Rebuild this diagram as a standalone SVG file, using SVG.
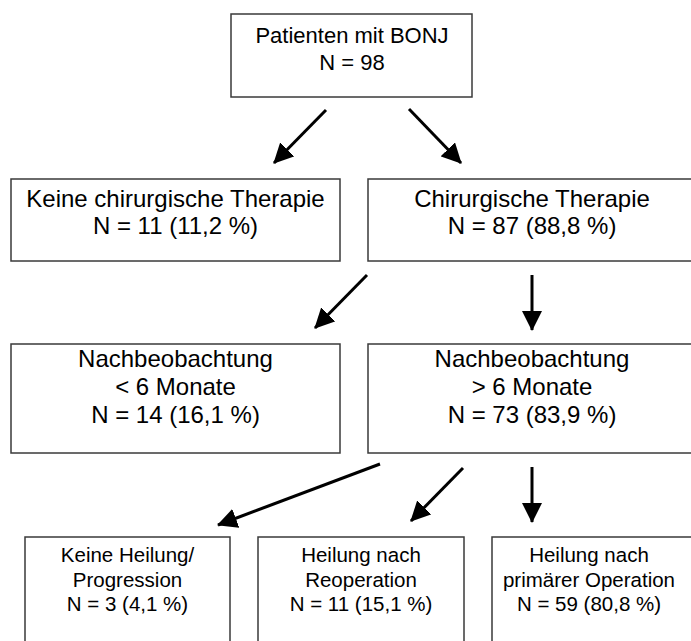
<svg xmlns="http://www.w3.org/2000/svg" width="691" height="641" viewBox="0 0 691 641">
<defs>
<style>
.box{fill:#fff;stroke:#3a3a3a;stroke-width:1.5}
text{font-family:"Liberation Sans",Arial,sans-serif;fill:#000;text-anchor:middle}
.t0{font-size:22px}
.t1{font-size:24px}
.t2{font-size:20.5px}
.arr{stroke:#000;stroke-width:3;fill:none;marker-end:url(#ah)}
</style>
<marker id="ah" markerUnits="userSpaceOnUse" markerWidth="20" markerHeight="20" viewBox="0 0 20 20" refX="19" refY="10" orient="auto">
<path d="M0,0 L20,10 L0,20 Z" fill="#000"/>
</marker>
</defs>
<rect width="691" height="641" fill="#fff"/>
<g id="connectors">
<line class="arr" x1="326" y1="110" x2="274" y2="163"/>
<line class="arr" x1="409" y1="109" x2="461" y2="163"/>
<line class="arr" x1="367" y1="275" x2="315" y2="328"/>
<line class="arr" x1="532" y1="275" x2="532" y2="330"/>
<line class="arr" x1="380" y1="464" x2="218" y2="525"/>
<line class="arr" x1="463" y1="468" x2="411" y2="521"/>
<line class="arr" x1="532" y1="467" x2="532" y2="522"/>
</g>
<g id="n_top">
<rect class="box" x="231" y="14" width="241" height="83"/>
<text class="t0" x="352" y="43">Patienten mit BONJ</text>
<text class="t0" x="352" y="70">N = 98</text>
</g>
<g id="n_keine">
<rect class="box" x="11" y="179" width="329" height="82"/>
<text class="t1" x="175.5" y="207">Keine chirurgische Therapie</text>
<text class="t1" x="175.5" y="234">N = 11 (11,2 %)</text>
</g>
<g id="n_chir">
<rect class="box" x="368" y="179" width="340" height="82"/>
<text class="t1" x="532" y="207">Chirurgische Therapie</text>
<text class="t1" x="532" y="234">N = 87 (88,8 %)</text>
</g>
<g id="n_nach_lt">
<rect class="box" x="11" y="344" width="329" height="109"/>
<text class="t1" x="175.5" y="367">Nachbeobachtung</text>
<text class="t1" x="175.5" y="395">&lt; 6 Monate</text>
<text class="t1" x="175.5" y="423">N = 14 (16,1 %)</text>
</g>
<g id="n_nach_gt">
<rect class="box" x="368" y="344" width="340" height="109"/>
<text class="t1" x="532" y="367">Nachbeobachtung</text>
<text class="t1" x="532" y="395">&gt; 6 Monate</text>
<text class="t1" x="532" y="423">N = 73 (83,9 %)</text>
</g>
<g id="n_keineheilung">
<rect class="box" x="25" y="537" width="205" height="120"/>
<text class="t2" x="127.5" y="562">Keine Heilung/</text>
<text class="t2" x="127.5" y="587">Progression</text>
<text class="t2" x="127.5" y="611">N = 3 (4,1 %)</text>
</g>
<g id="n_reop">
<rect class="box" x="258" y="537" width="206" height="120"/>
<text class="t2" x="361" y="562">Heilung nach</text>
<text class="t2" x="361" y="587">Reoperation</text>
<text class="t2" x="361" y="611">N = 11 (15,1 %)</text>
</g>
<g id="n_prim">
<rect class="box" x="492" y="537" width="220" height="120"/>
<text class="t2" x="589" y="562">Heilung nach</text>
<text class="t2" x="589" y="587">primärer Operation</text>
<text class="t2" x="589" y="611">N = 59 (80,8 %)</text>
</g>
</svg>
